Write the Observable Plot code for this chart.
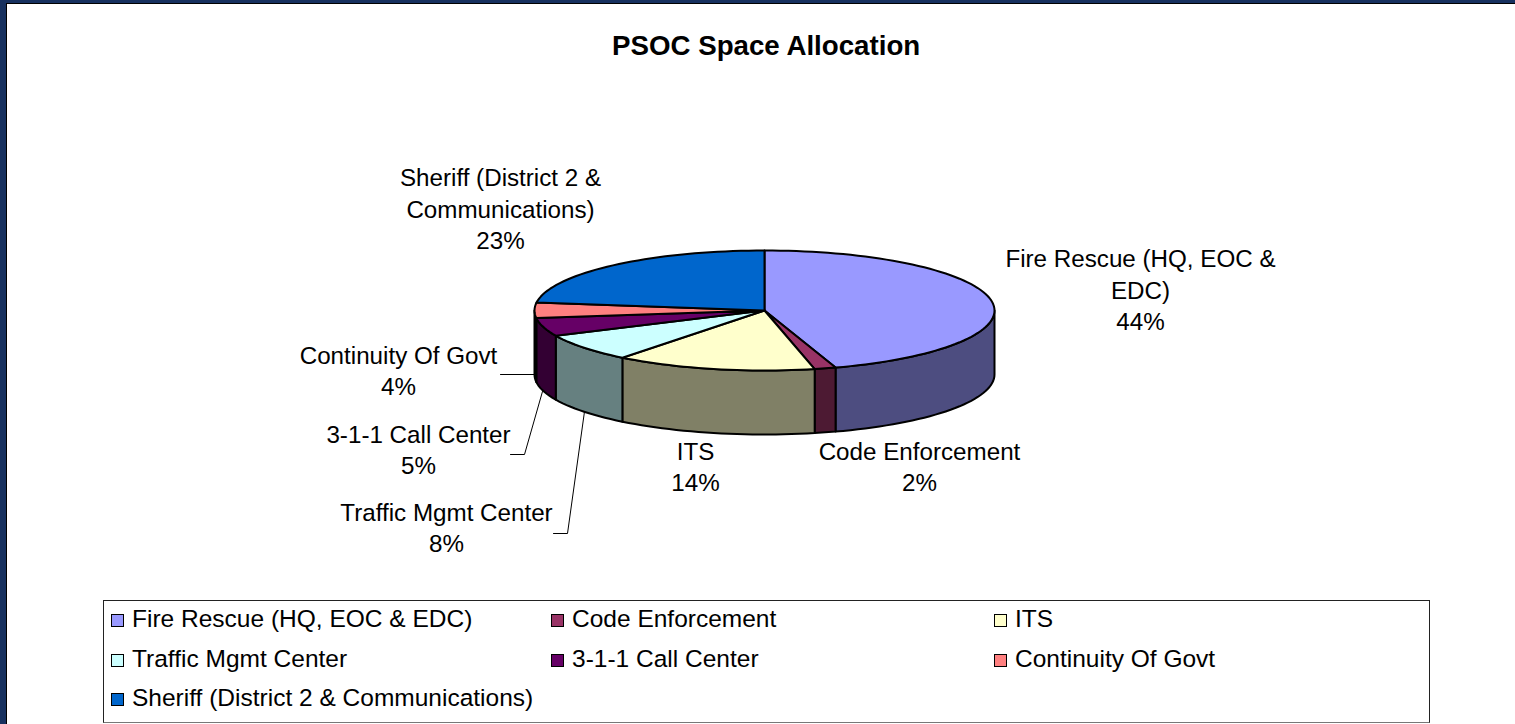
<!DOCTYPE html>
<html>
<head>
<meta charset="utf-8">
<script src="https://cdn.jsdelivr.net/npm/d3@7"></script>
<script src="https://cdn.jsdelivr.net/npm/@observablehq/plot@0.6"></script>
<style>
html,body{margin:0;padding:0;background:#17315f;}
#page{position:relative;width:1515px;height:724px;overflow:hidden;background:#17315f;font-family:"Liberation Sans",Arial,sans-serif;color:#000;}
#panel{position:absolute;left:6px;top:3px;right:0;bottom:0;background:#fff;border-left:1.5px solid #000;border-top:1.5px solid #000;}
#title{position:absolute;left:612px;top:30px;margin:0;font-size:27.7px;font-weight:bold;line-height:32px;white-space:nowrap;}
#chart{position:absolute;left:0;top:0;}
#legend{position:absolute;left:103px;top:600px;width:1325px;height:121px;border:1px solid #222;border-bottom-color:#777;box-sizing:content-box;}
.item{position:absolute;display:flex;align-items:center;font-size:24.5px;line-height:28px;white-space:nowrap;}
.sw{width:11px;height:11px;border:1.5px solid #000;margin-right:8px;flex:none;position:relative;top:1px;}
</style>
</head>
<body>
<div id="page">
  <div id="panel"></div>
  <h1 id="title"></h1>
  <div id="chart"></div>
  <div id="legend"></div>
</div>
<script>
const chartTitle = "PSOC Space Allocation";
const categories = ["Fire Rescue (HQ, EOC & EDC)","Code Enforcement","ITS","Traffic Mgmt Center","3-1-1 Call Center","Continuity Of Govt","Sheriff (District 2 & Communications)"];
const shares = [45.0,1.5,14.1,7.5,4.9,4.1,22.9];
const percentLabels = ["44%","2%","14%","8%","5%","4%","23%"];
const topColors = ["#9999FF","#993366","#FFFFCC","#CCFFFF","#660066","#FF8080","#0066CC"];
const sideColors = ["#4D4D80","#4D1A33","#808066","#668080","#330033","#804040","#003366"];
const wrappedNames = ["Fire Rescue (HQ, EOC &\nEDC)","Code Enforcement","ITS","Traffic Mgmt Center","3-1-1 Call Center","Continuity Of Govt","Sheriff (District 2 &\nCommunications)"];
const labelCenters = [[1140,288],[919,465],[695,465],[446,526],[418,448],[398,369],[500,207]];
const leaders = [
  {slice:3,path:[[553,533],[567,533],[584,411]]},
  {slice:4,path:[[510,454],[524,454],[542,391]]},
  {slice:5,path:[[500,374],[535,374]]}
];
const legendCols = [111,551,994];
const legendRows = [605,645,684];

const pie = {cx:764,cy:310,rx:230,ry:60,depth:64};
const W = 1515, H = 596;

document.getElementById("title").textContent = chartTitle;

let cum = 0;
const spans = shares.map(s => { const a0 = cum/100*360; cum += s; return [a0, cum/100*360]; });
const rad = d => d*Math.PI/180;
const rim = (deg, drop=0) => ({x: pie.cx+pie.rx*Math.sin(rad(deg)), y: pie.cy-pie.ry*Math.cos(rad(deg))+drop});
const arc = (a0,a1,drop=0) => { const n=Math.max(2,Math.ceil((a1-a0)/2)); return d3.range(n+1).map(i=>rim(a0+(a1-a0)*i/n,drop)); };

const tops = categories.flatMap((c,i)=>{
  const [a0,a1]=spans[i];
  const pts=[{x:pie.cx,y:pie.cy},...arc(a0,a1),{x:pie.cx,y:pie.cy}];
  return pts.map(p=>({...p,category:c}));
});
const walls = categories.map((c,i)=>{
  const a0=Math.max(spans[i][0],90), a1=Math.min(spans[i][1],270);
  if(a1<=a0) return null;
  const up=arc(a0,a1), down=arc(a0,a1,pie.depth).reverse();
  return {fill:sideColors[i],pts:[...up,...down,up[0]]};
}).filter(Boolean);

const labels = categories.map((c,i)=>({x:labelCenters[i][0],y:labelCenters[i][1],text:wrappedNames[i]+"\n"+percentLabels[i]}));
const leaderPts = leaders.flatMap(l=>l.path.map(p=>({x:p[0],y:p[1],z:l.slice})));

const svg = Plot.plot({
  width:W,height:H,margin:0,
  style:{background:"transparent",fontFamily:'"Liberation Sans",Arial,sans-serif'},
  x:{domain:[0,W],range:[0,W],axis:null},
  y:{domain:[0,H],range:[0,H],axis:null},
  color:{domain:categories,range:topColors},
  marks:[
    ...walls.map(w=>Plot.line(w.pts,{x:"x",y:"y",fill:w.fill,stroke:"#000",strokeWidth:2,curve:"linear",strokeLinejoin:"round"})),
    Plot.line(tops,{x:"x",y:"y",z:"category",fill:"category",stroke:"#000",strokeWidth:2,curve:"linear",strokeLinejoin:"round"}),
    Plot.line(leaderPts,{x:"x",y:"y",z:"z",stroke:"#000",strokeWidth:1,curve:"linear"}),
    Plot.text(labels,{x:"x",y:"y",text:"text",fontSize:24.2,lineHeight:1.31,fill:"#000",textAnchor:"middle",lineAnchor:"middle"})
  ]
});
document.getElementById("chart").appendChild(svg);

const legend = document.getElementById("legend");
categories.forEach((c,i)=>{
  const el=document.createElement("div");
  el.className="item";
  el.style.left=(legendCols[i%3]-104)+"px";
  el.style.top=(legendRows[Math.floor(i/3)]-601)+"px";
  const sw=document.createElement("span");
  sw.className="sw"; sw.style.background=topColors[i];
  el.appendChild(sw);
  el.appendChild(document.createTextNode(c));
  legend.appendChild(el);
});
</script>
</body>
</html>
